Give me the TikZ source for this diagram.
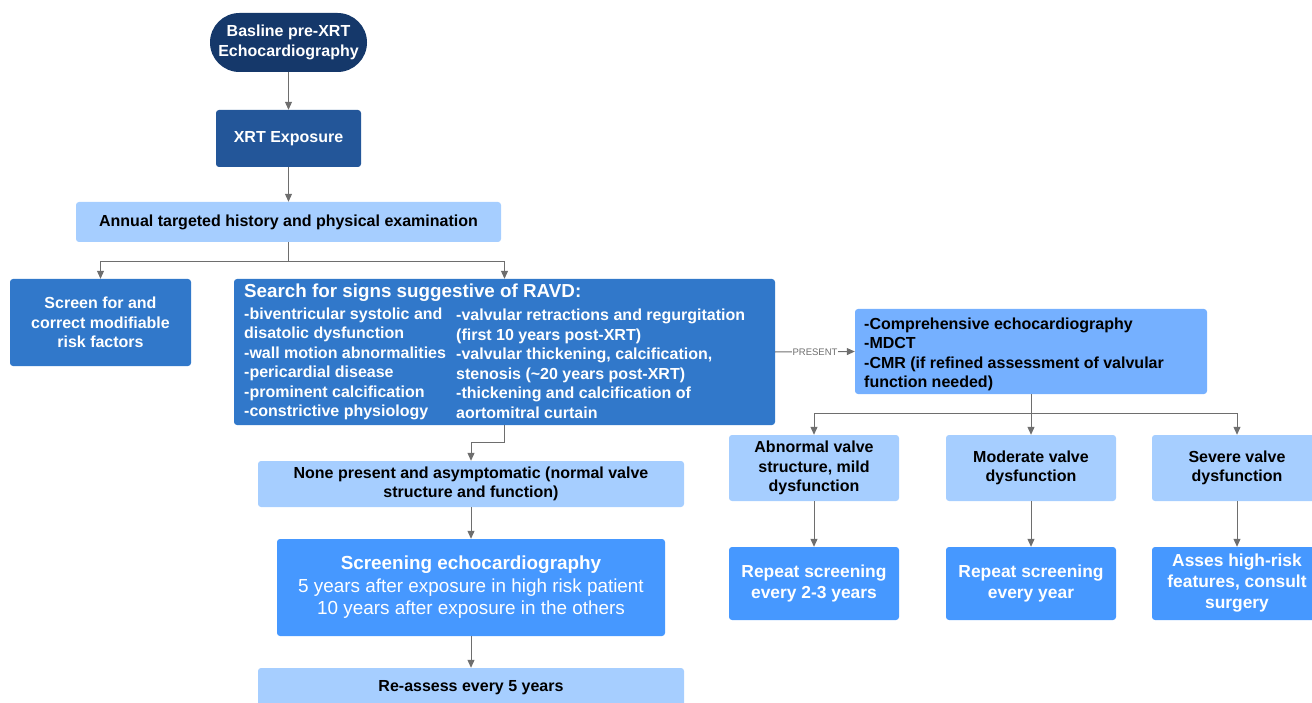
\documentclass[tikz,border=0pt]{standalone}
\usepackage{fontspec}
\setmainfont{Liberation Sans}
\usetikzlibrary{arrows.meta}
\definecolor{navy}{RGB}{21,56,106}
\definecolor{xrtblue}{RGB}{35,86,153}
\definecolor{lightblue}{RGB}{166,206,255}
\definecolor{midblue}{RGB}{49,120,202}
\definecolor{cmrblue}{RGB}{117,176,255}
\definecolor{brightblue}{RGB}{70,152,255}
\definecolor{linegray}{RGB}{110,110,110}
\begin{document}
\begin{tikzpicture}[x=1pt,y=-1pt,
  box/.style={rounded corners=3pt, inner sep=0pt, align=center,
    font=\fontsize{16}{19.5}\selectfont\bfseries},
  darkbox/.style={box, fill=midblue, text=white},
  lightbox/.style={box, fill=lightblue, text=black},
  brightbox/.style={box, fill=brightblue, text=white},
  txt/.style={inner sep=0pt, align=left, font=\fontsize{16}{19.5}\selectfont\bfseries},
  conn/.style={draw=linegray, line width=1pt, -{Triangle[width=7pt,length=8pt]}},
  lbl/.style={fill=white, inner sep=1pt, text=linegray, font=\fontsize{9.5}{11}\selectfont}
]
\useasboundingbox (0,0) rectangle (1312,703);

% nodes
\node[box, fill=navy, text=white, rounded corners=29.5pt, minimum width=157pt, minimum height=59pt] (base) at (288.5,42.5) {Basline pre-XRT\\Echocardiography};
\node[box, fill=xrtblue, text=white, minimum width=145pt, minimum height=57pt] (xrt) at (288.5,138.5) {XRT Exposure};
\node[lightbox, minimum width=425pt, minimum height=40pt] (annual) at (288.5,222) {Annual targeted history and physical examination};
\node[darkbox, minimum width=181pt, minimum height=87pt] (screen) at (100.5,322.5) {Screen for and\\correct modifiable\\risk factors};
\node[darkbox, minimum width=541pt, minimum height=146pt] (ravd) at (504.5,352) {};
\node[txt, text=white, anchor=west, font=\fontsize{18.8}{22}\selectfont\bfseries] (ravdtitle) at (244,292.5) {Search for signs suggestive of RAVD:};
\node[txt, text=white, anchor=west] (ravdleft) at (244,364) {-biventricular systolic and\\disatolic dysfunction\\-wall motion abnormalities\\-pericardial disease\\-prominent calcification\\-constrictive physiology};
\node[txt, text=white, anchor=west] (ravdright) at (456,364) {-valvular retractions and regurgitation\\(first 10 years post-XRT)\\-valvular thickening, calcification,\\stenosis (\textasciitilde20 years post-XRT)\\-thickening and calcification of\\aortomitral curtain};
\node[box, fill=cmrblue, minimum width=352pt, minimum height=85pt] (cmr) at (1031,351.5) {};
\node[txt, text=black, anchor=west] (cmrtext) at (864,354.5) {-Comprehensive echocardiography\\-MDCT\\-CMR (if refined assessment of valvular\\function needed)};
\node[lightbox, minimum width=170pt, minimum height=66pt] (abn) at (814,468) {Abnormal valve\\structure, mild\\dysfunction};
\node[lightbox, minimum width=170pt, minimum height=66pt] (mod) at (1031,468) {Moderate valve\\dysfunction};
\node[lightbox, minimum width=170pt, minimum height=66pt] (sev) at (1237,468) {Severe valve\\dysfunction};
\node[brightbox, minimum width=170pt, minimum height=73pt, font=\fontsize{17.4}{21}\selectfont\bfseries] (rep1) at (814,583.5) {Repeat screening\\every 2-3 years};
\node[brightbox, minimum width=170pt, minimum height=73pt, font=\fontsize{17.4}{21}\selectfont\bfseries] (rep2) at (1031,583.5) {Repeat screening\\every year};
\node[brightbox, minimum width=170pt, minimum height=73pt, font=\fontsize{17.4}{21}\selectfont\bfseries] (asses) at (1237,583.5) {Asses high-risk\\features, consult\\surgery};
\node[lightbox, minimum width=426pt, minimum height=46pt] (none) at (471,484) {None present and asymptomatic (normal valve\\structure and function)};
\node[brightbox, minimum width=388pt, minimum height=97pt, font=\fontsize{18.9}{22.5}\selectfont] (screening) at (471,587.5) {\textbf{Screening echocardiography}\\5 years after exposure in high risk patient\\10 years after exposure in the others};
\node[lightbox, minimum width=426pt, minimum height=40pt] (reassess) at (471,688) {Re-assess every 5 years};

% connectors
\draw[conn] (base.south) -- (xrt.north);
\draw[conn] (xrt.south) -- (annual.north);
\draw[conn] (annual.south) -- ++(0,19) -| (screen.north);
\draw[conn] (annual.south) -- ++(0,19) -| (ravd.north);
\draw[conn] (ravd.east) -- node[lbl] (present) {PRESENT} (cmr.west);
\draw[conn] (ravd.south) -- ++(0,17) -| (none.north);
\draw[conn] (none.south) -- (screening.north);
\draw[conn] (screening.south) -- (reassess.north);
\draw[conn] (cmr.south) -- ++(0,19) -| (abn.north);
\draw[conn] (cmr.south) -- (mod.north);
\draw[conn] (cmr.south) -- ++(0,19) -| (sev.north);
\draw[conn] (abn.south) -- (rep1.north);
\draw[conn] (mod.south) -- (rep2.north);
\draw[conn] (sev.south) -- (asses.north);
\end{tikzpicture}
\end{document}
